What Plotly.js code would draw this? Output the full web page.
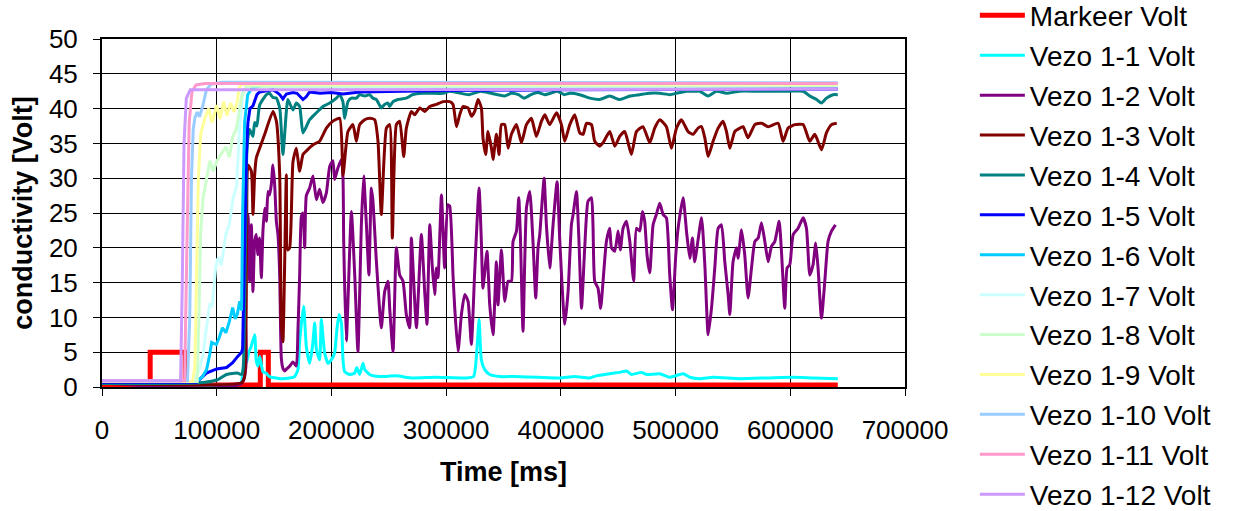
<!DOCTYPE html>
<html>
<head>
<meta charset="utf-8">
<script src="https://cdn.plot.ly/plotly-3.0.1.min.js"></script>
<style>html,body{margin:0;padding:0;background:#fff;}#chart{width:1233px;height:511px;}</style>
</head>
<body>
<div id="chart"></div>
<script>
// Series names
const seriesNames = ["Markeer Volt","Vezo 1-1 Volt","Vezo 1-2 Volt","Vezo 1-3 Volt","Vezo 1-4 Volt","Vezo 1-5 Volt","Vezo 1-6 Volt","Vezo 1-7 Volt","Vezo 1-8 Volt","Vezo 1-9 Volt","Vezo 1-10 Volt","Vezo 1-11 Volt","Vezo 1-12 Volt"];

// Data: [time ms, volt]
const markeer = [[0,0.3],[42000,0.3],[42000,5],[72500,5],[72500,0.3],[138000,0.3],[138000,5],[145000,5],[145000,0.3],[641400,0.3]];

const vezo1 = [[0,0.6],[121000,0.6],[122600,2],[124300,4.2],[126000,3.5],[128000,5],[130000,5.8],[133100,7.5],[134500,3.7],[136000,3],[137500,4.4],[140300,2.2],[143000,2],[146000,1.5],[155000,1.2],[163600,1.3],[168000,1.5],[170800,2.5],[172300,6.6],[175800,11.6],[178100,5.8],[181000,3.4],[183600,6],[185400,9.2],[186900,5.4],[189700,3.9],[191200,9.7],[194100,4.9],[197000,3.4],[200300,4],[202800,4.9],[204600,8],[206600,10.4],[208700,9.2],[210100,3.9],[211500,2.2],[215900,1.8],[220300,2],[222000,2.8],[224600,1.8],[227500,3.4],[229000,2.5],[233300,1.8],[242100,1.5],[256000,1.6],[270800,1.3],[290000,1.4],[317600,1.3],[324000,1.5],[326400,4.4],[328700,9.7],[330700,3.9],[333600,2.5],[338000,1.8],[346700,1.5],[360000,1.5],[380000,1.4],[399000,1.3],[412000,1.5],[425200,1.3],[431000,1.6],[442600,1.9],[451300,2.1],[457200,2.3],[461500,1.8],[470200,2.1],[474600,1.8],[486200,1.9],[494900,1.4],[506600,1.9],[512400,1.4],[521100,1.2],[532700,1.4],[556000,1.2],[580000,1.3],[602500,1.4],[620000,1.3],[641400,1.2]];

const vezo2 = [[0,0.6],[122000,0.6],[124300,12.6],[125800,23],[127200,24.8],[128700,15.2],[130200,23.3],[131600,13.7],[133100,20.9],[134500,21.9],[135900,19],[137400,21.4],[138900,15.7],[140300,22.4],[141800,25.7],[143300,23.8],[144700,28.1],[146100,27.6],[147600,29.1],[149000,31.9],[150500,29.1],[152000,23.8],[153400,21.9],[154900,16.1],[156300,4.2],[157700,2.7],[159200,2.3],[161000,2.6],[163600,3],[166500,3.6],[169400,3],[170800,8],[172300,16],[173800,24.5],[175200,25],[176700,20],[178100,27.5],[181000,28.6],[183900,30.3],[186900,26.9],[189700,28.4],[192600,26.5],[195600,27.9],[198500,31.7],[201300,32.5],[202800,29.8],[205700,31.5],[208700,32.7],[210100,30],[210700,20.9],[213000,6.6],[217400,25.2],[220300,16.1],[223100,5.1],[226100,23.3],[228100,30.3],[230500,23.3],[232700,16.1],[234800,28.6],[236200,26.7],[239200,18],[243500,8.5],[246400,13.7],[249300,15.2],[250800,11.3],[253700,5.1],[256600,20],[259500,16.1],[262400,15.2],[265300,10.4],[268200,8.5],[269700,21.4],[274100,8.5],[278400,21.9],[281300,13.7],[283300,9],[285700,23.3],[288000,17.1],[290000,13.3],[291500,17.1],[292900,15.7],[295900,27.6],[298700,17.1],[301500,26.2],[303100,26],[306000,16],[307500,11.3],[310400,5.1],[313300,10.4],[316200,13.3],[319100,12.3],[322000,6.1],[324900,16.6],[328700,28.6],[330700,20.9],[332100,14.2],[335600,19.5],[338000,11.8],[340900,7.5],[343800,18],[345200,11.8],[348200,19.7],[351100,12.3],[354000,15.2],[356900,15.2],[358300,20.9],[361300,22.4],[363300,27.2],[364700,21.9],[367000,8],[370000,25.7],[372900,28.1],[375700,20.9],[378100,12.8],[380100,20],[381600,21.9],[385400,30],[387400,23.3],[390300,17.1],[393200,23.3],[396700,29.5],[399100,20.9],[403400,9],[406300,13.7],[409200,23.3],[410700,24.8],[413600,28.1],[415800,20.9],[418000,11.3],[420800,20],[423700,26.7],[426700,27.2],[428000,23.3],[429500,15.2],[432400,14.2],[434700,11.3],[436800,15.2],[439700,20.9],[442600,22.8],[444100,20],[447000,19.5],[449900,22.4],[451900,19.7],[454200,22.8],[457200,23.8],[460100,20.9],[463500,15.2],[465900,22.8],[468800,22.4],[471100,25.2],[473100,23.8],[475100,19],[477500,16.4],[480400,23.3],[483300,24.8],[486200,26.4],[489100,24.8],[492000,24.3],[494900,16.1],[497300,11.1],[500200,19],[502200,22.8],[506600,27.2],[509500,22.4],[512400,18.5],[514700,21.4],[516700,18],[522600,24.3],[525500,17.6],[528400,7.5],[531300,11.3],[534200,17.1],[537100,22.8],[540000,23.3],[542900,18],[545800,13.3],[547300,10.4],[550100,18],[553100,20],[554500,18.5],[557500,22.6],[560300,19],[563200,12.8],[566200,17.1],[569100,20.9],[572000,21.4],[574900,23.6],[577800,20.9],[580700,18],[583600,20.2],[586500,20.9],[590300,23.8],[592300,19.5],[595200,11.3],[597200,17.1],[599600,17.6],[602500,21.9],[606800,22.8],[611200,24.3],[614100,22.8],[617000,16.1],[619900,17.6],[622200,20.7],[624200,17.1],[627200,9.9],[630100,15.2],[632900,20.9],[635900,22.4],[639400,23.3]];

const vezo3 = [[0,0.5],[121700,0.6],[124300,1.5],[126100,22],[127200,31.9],[130200,31],[131600,24.8],[133100,30.5],[134500,32.9],[137400,34.3],[141800,36.3],[149000,39.6],[152000,38.2],[154900,30.5],[156300,9],[157700,6.5],[160700,30.5],[161800,19.7],[163600,20],[166500,32.4],[169400,34.3],[172300,31],[175200,33.4],[178100,33.9],[183900,34.8],[189700,35.3],[195600,37.2],[201300,38.2],[207200,38.6],[210100,30.4],[214400,36.7],[218800,37.7],[221700,35.3],[224600,37.7],[229000,38.4],[233300,38.6],[237700,38.4],[240600,35.3],[243500,24.8],[247900,37.2],[250800,37.7],[253100,21.4],[256600,37.7],[259500,38.2],[263000,33.1],[265300,37.2],[269700,39.6],[272600,39.1],[277000,40.1],[281300,39.6],[285700,40.3],[291500,40.6],[297300,41],[303100,41],[306000,40.6],[309000,37.4],[311800,39.1],[314700,40.3],[319100,40.1],[322000,38.9],[324900,39.6],[327800,41.3],[330700,40.1],[332100,35.8],[334500,33.4],[336500,36.7],[339500,34.3],[340900,32.7],[343800,36.3],[346100,33.4],[348200,37.7],[351100,37.7],[354000,34.3],[356900,36.3],[361300,37.7],[365600,35.1],[370000,37.7],[374300,38.6],[378700,36],[383100,38.2],[386000,39.1],[390300,37.7],[396200,39.4],[400500,37.7],[403400,35.3],[407800,37.7],[412100,39.1],[416500,36.5],[419400,36.3],[422300,37.9],[426700,37.7],[429500,35.3],[433900,34.6],[436800,35.1],[442600,36.7],[447000,34.6],[451300,36],[455700,36.7],[461500,33.4],[465900,36.7],[471600,37.4],[477500,35.1],[481800,37.2],[486200,38.4],[492000,37.4],[496400,34.3],[500800,37.2],[505100,38.4],[510900,36.7],[515300,36.3],[519600,37.2],[522600,37.4],[525500,35.8],[528400,33.1],[532700,35.3],[537100,37.2],[541400,38.2],[544400,36.7],[547300,34.3],[551600,36.7],[556000,37.2],[558900,37.4],[563200,35.8],[569100,37.7],[574900,37.9],[580700,37.4],[589400,37.9],[593700,35.3],[598100,37.2],[604000,37.7],[611200,37.7],[617000,35.3],[621400,36.3],[627200,34.1],[631500,36.5],[635900,37.7],[640500,37.9]];

const vezo4 = [[0,0.5],[85000,0.6],[100000,1],[108600,1.8],[118000,2],[121700,1.8],[123000,2.5],[125000,20],[126100,33],[127200,35.8],[128700,37],[131600,36],[133100,38],[135000,37.5],[137400,40.5],[143300,42],[146000,42.2],[149000,41.6],[152000,41.5],[155000,40],[157700,33.4],[160700,39.6],[162000,41.3],[166500,39.8],[169400,40.8],[172300,40.3],[175200,36.5],[181000,38.4],[186900,39.4],[192600,40.3],[198500,40.8],[204300,41.5],[207200,42],[210000,41],[211500,38.6],[214400,41],[217400,41.5],[221700,41.5],[224600,42],[229000,41.8],[233300,42],[236200,41.5],[239200,41.3],[243500,40.1],[246400,40.6],[249300,40.8],[250800,40.3],[253700,41],[258000,41.3],[265300,41.5],[270800,42],[279000,42.2],[288000,42.2],[297300,42.2],[303100,42.5],[310000,42.3],[320000,42],[330000,42.5],[339000,42.2],[345000,42],[351000,41.8],[357000,42.2],[363000,42],[368000,41.5],[374000,42],[380000,42.3],[386000,42],[391000,42.2],[397000,42.5],[403000,42],[407800,42.2],[416500,42],[425200,41.5],[433900,41.3],[442600,41.8],[451300,41.3],[460100,41.8],[468800,42],[477500,42.2],[486200,42.2],[494900,42],[500800,42.2],[509500,42.5],[518200,42.5],[521000,42.5],[528400,41.8],[535600,42.5],[544400,42.2],[556000,42.5],[570600,42.5],[585100,42.5],[599600,42.5],[611200,42.5],[617000,41.8],[622900,41.3],[627200,40.8],[631500,41.5],[637300,42],[641400,42]];

const vezo5 = [[0,0.7],[82500,0.7],[91000,2],[100000,2.6],[108600,2.8],[113900,3.5],[118300,4.4],[121700,5],[122600,5.5],[124000,20],[125800,33],[127200,38],[129000,40],[131600,40.4],[135000,42],[137400,42.4],[143300,42.6],[149000,42.7],[152000,42.4],[155000,42],[157700,41.4],[160700,42.1],[166500,42.3],[170000,42.2],[175200,41.3],[178000,41.7],[181000,42.4],[190000,42.2],[200000,42.3],[210000,42.1],[225000,42.4],[250000,42.5],[300000,42.6],[400000,42.7],[500000,42.7],[641400,42.8]];

const vezo6 = [[0,0.8],[82500,0.8],[87700,1.5],[91200,2.5],[93800,4.6],[95600,6.4],[99600,6.1],[102000,7],[105000,8.5],[108000,7.8],[111000,9.4],[113900,11.4],[116000,9.8],[118000,10.5],[120000,12.3],[121700,11],[122600,25],[124300,38],[127000,42],[131000,43],[140000,43.3],[641400,43.3]];

const vezo7 = [[0,0.8],[80000,0.8],[84000,2.2],[88000,4.5],[91000,8.5],[94000,12],[96000,11.5],[99000,17],[100500,18.3],[102000,18.6],[104000,17.5],[106000,19.5],[108000,22],[111000,23.3],[114000,26.9],[117400,29],[120000,37.7],[122600,42],[126000,43.3],[641400,43.4]];

const vezo8 = [[0,0.8],[83000,0.8],[84500,10],[86000,22],[88000,27],[91000,30],[94000,32.5],[97000,31],[100000,32.4],[104000,33.5],[108000,34.5],[111000,33],[114000,36],[117000,37],[120000,40],[122000,42],[126000,43.2],[641400,43.3]];

const vezo9 = [[0,0.8],[79000,0.8],[81000,3],[82500,15],[84000,30],[86000,36.3],[90000,38.8],[93000,40],[96000,38],[100000,40.5],[103000,38.5],[106000,41],[109000,39],[112000,40.8],[115000,39.5],[118000,41],[119500,43],[122000,43.5],[641400,43.5]];

const vezo10 = [[0,0.9],[74500,0.9],[76500,10],[78000,30],[79500,37],[81000,38.7],[83000,39.5],[85000,38.8],[88000,40.5],[91000,42.7],[95000,43.5],[105000,43.8],[641400,43.7]];

const vezo11 = [[0,0.9],[72000,0.9],[74000,20],[76000,38],[78500,42.5],[82000,43.4],[90000,43.6],[641400,43.6]];

const vezo12 = [[0,0.9],[68500,0.9],[70000,15],[71500,35],[73500,41.5],[77000,42.7],[641400,42.8]];

const seriesData = [markeer,vezo1,vezo2,vezo3,vezo4,vezo5,vezo6,vezo7,vezo8,vezo9,vezo10,vezo11,vezo12];
const seriesColors = ["#FF0000","#00FFFF","#800080","#800000","#008080","#0000FF","#00CCFF","#CCFFFF","#CCFFCC","#FFFF99","#99CCFF","#FF99CC","#CC99FF"];
const smoothSeries = [false,true,true,true,true,false,false,false,false,false,false,false,false];
const xTicks = [0,100000,200000,300000,400000,500000,600000,700000];
const yTicks = [0,5,10,15,20,25,30,35,40,45,50];

const FONT = "Arial, 'Liberation Sans', sans-serif";

const traces = seriesData.map((d, i) => ({
  type: 'scatter',
  mode: 'lines',
  name: seriesNames[i],
  legendgroup: 'g' + i,
  x: d.map(p => p[0]),
  y: d.map(p => p[1]),
  line: smoothSeries[i]
    ? {color: seriesColors[i], width: 3, shape: 'spline', smoothing: 0.5}
    : {color: seriesColors[i], width: i === 0 ? 5 : 3},
  hoverinfo: 'skip'
}));

const layout = {
  width: 1233,
  height: 511,
  margin: {l: 102, r: 328, t: 39, b: 124, pad: 0, autoexpand: false},
  paper_bgcolor: '#ffffff',
  plot_bgcolor: '#ffffff',
  font: {family: FONT, color: '#000'},
  showlegend: true,
  legend: {
    x: 1.087, xanchor: 'left',
    y: 1.139, yanchor: 'top', yref: 'paper',
    maxheight: 600,
    itemwidth: 45,
    font: {family: FONT, size: 28, color: '#000'},
    bgcolor: 'rgba(0,0,0,0)',
    borderwidth: 0,
    tracegroupgap: 0.5,
    traceorder: 'grouped'
  },
  xaxis: {
    range: [0, 700000],
    tickvals: xTicks,
    ticktext: xTicks.map(v => String(v)),
    showgrid: true, gridcolor: '#000', gridwidth: 1,
    zeroline: false,
    showline: true, linecolor: '#000', linewidth: 2, mirror: true,
    ticks: 'outside', ticklen: 7, tickcolor: '#000', tickwidth: 1,
    ticklabelstandoff: 12,
    tickfont: {family: FONT, size: 26, color: '#000'},
    title: {text: 'Time [ms]', font: {family: FONT, size: 27, weight: 'bold', color: '#000'}, standoff: 18},
    automargin: false
  },
  yaxis: {
    range: [0, 50],
    tickvals: yTicks,
    showgrid: true, gridcolor: '#000', gridwidth: 1,
    zeroline: false,
    showline: true, linecolor: '#000', linewidth: 2, mirror: true,
    ticks: 'outside', ticklen: 7, tickcolor: '#000', tickwidth: 1,
    ticklabelstandoff: 10,
    tickfont: {family: FONT, size: 26, color: '#000'},
    title: {text: 'conductivity [Volt]', font: {family: FONT, size: 27, weight: 'bold', color: '#000'}, standoff: 8},
    automargin: false
  }
};

Plotly.newPlot('chart', traces, layout, {staticPlot: true, displayModeBar: false});
</script>
</body>
</html>
